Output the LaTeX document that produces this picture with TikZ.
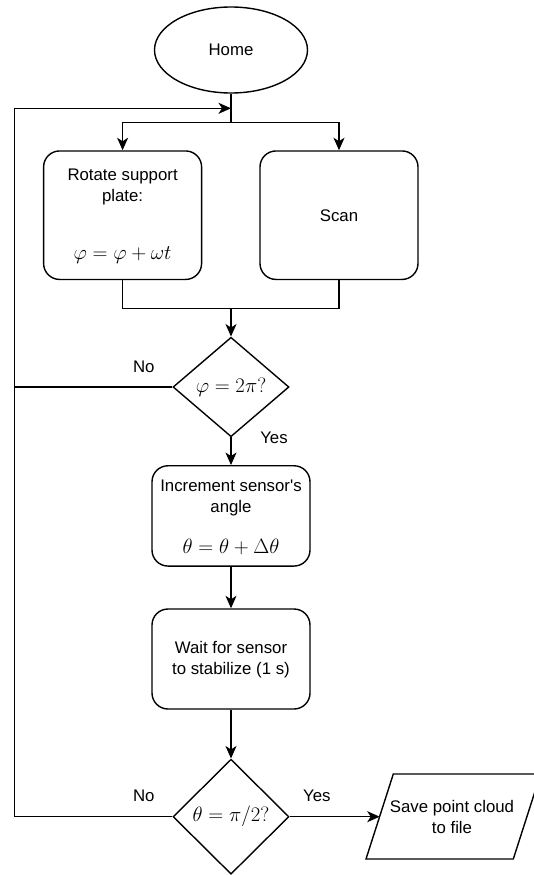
\documentclass[tikz,border=0pt]{standalone}
\usepackage{fontspec}
\setmainfont{Liberation Sans}
\usetikzlibrary{shapes.geometric,arrows.meta}
\begin{document}
\begin{tikzpicture}[x=1pt,y=-1pt, line width=1.4pt, line join=miter,
  >={Stealth[length=12.5pt,width=11pt,inset=3.5pt]},
  txt/.style={font=\fontsize{16.8}{21}\selectfont, align=center, inner sep=0pt},
  mth/.style={font=\fontsize{20.5}{24}\selectfont, inner sep=0pt},
  proc/.style={draw, rounded corners=16pt, minimum width=158pt, minimum height=128.5pt, inner sep=0pt},
  dec/.style={draw, diamond, minimum width=116pt, inner sep=0pt, mth}]
\useasboundingbox (0,0) rectangle (534,875);

% start
\node[ellipse, draw, minimum width=153pt, minimum height=86pt, txt] (home) at (231,50) {Home};

% parallel steps
\node[proc] (rot) at (122.6,215.2) {};
\node[txt] (rott) at (122.6,186.5) {Rotate support\\plate:};
\node[mth] (rotm) at (122.6,255) {$\varphi = \varphi + \omega t$};
\node[proc] (scan) at (339,215.2) {};
\node[txt] (scant) at (339,216) {Scan};

\coordinate (fb) at (231,108.3);
\coordinate (split) at (231,122.7);
\coordinate (join) at (231,308.3);
\draw (home.south) -- (split);
\draw[->] (split) -| (rot.north);
\draw[->] (split) -| (scan.north);
\draw (rot.south) |- (join) -| (scan.south);

% first decision
\node[dec, minimum height=99.5pt] (d1) at (231,387) {$\varphi = 2\pi?$};
\draw[->] (join) -- (d1.north);
\node[txt] (no1) at (143.8,366.7) {No};
\node[txt] (yes1) at (274,437.7) {Yes};

% increment
\node[proc, minimum height=100.3pt] (inc) at (231,515.9) {};
\node[txt] (inct) at (231,498) {Increment sensor\textquotesingle s\\angle};
\node[mth] (incm) at (231,546.7) {$\theta = \theta + \Delta\theta$};
\draw[->] (d1.south) -- (inc.north);

% wait
\node[proc, minimum height=100pt] (wait) at (231,659) {};
\node[txt] (waitt) at (231,660) {Wait for sensor\\to stabilize (1 s)};
\draw[->] (inc.south) -- (wait.north);

% second decision
\node[dec, minimum height=115pt] (d2) at (231,816.7) {$\theta = \pi/2?$};
\draw[->] (wait.south) -- (d2.north);
\node[txt] (no2) at (143.8,796) {No};
\node[txt] (yes2) at (316.8,796) {Yes};

% feedback loop
\coordinate (lt) at (14.7,108.3);
\coordinate (lm) at (14.7,387);
\coordinate (lb) at (14.7,816.7);
\draw[->] (d2.west) -- (lb) -- (lt) -- (fb);
\draw (d1.west) -- (lm);

% output
\draw (393.3,774) -- (540.6,774) -- (513.3,859) -- (366,859) -- cycle;
\node[txt] (save) at (452,817.3) {Save point cloud\\to file};
\coordinate (savein) at (379.7,816.7);
\draw[->] (d2.east) -- (savein);
\end{tikzpicture}
\end{document}
